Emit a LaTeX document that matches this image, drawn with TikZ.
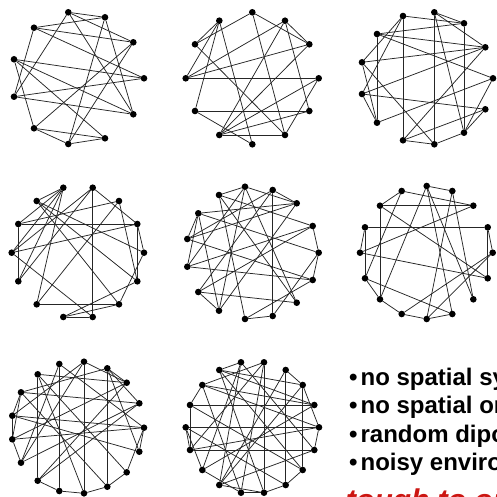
\documentclass[tikz,border=0pt]{standalone}
\usepackage{fontspec}
\setmainfont{Liberation Sans}
\usepackage{tikz}
\definecolor{toughred}{RGB}{204,22,18}

\begin{document}
\begin{tikzpicture}[line cap=round,line join=round,x=1pt,y=-1pt,
    vertex/.style={circle,fill=black,inner sep=0pt,minimum size=6.6pt},
    edge/.style={line width=0.75pt,color=black!85},
    item/.style={anchor=base west,inner sep=0pt,font=\fontsize{24}{28}\selectfont\bfseries}]
        \useasboundingbox (0,0) rectangle (497,497);
        % graph a (top left)
        \foreach \i/\x/\y in {1/68.3/12.3,2/105/17.3,3/133.3/42.3,4/144/78.3,5/133.3/114.3,6/105/138.3,7/68.3/144,8/34/128.3,9/14/96.7,10/14/59.3,11/34/27.7}
        \node[vertex] (a\i) at (\x,\y) {};
        \foreach \u/\v in {1/2,1/3,11/2,11/3,11/4,11/9,1/9,1/5,2/7,2/5,3/8,3/7,10/4,10/5,10/6,10/8,9/4,9/5,8/6,8/7,7/6}
        \draw[edge] (a\u) -- (a\v);
        % graph b (top middle)
        \foreach \i/\x/\y in {1/252.3/12.3,2/285/20.7,3/309.3/44.3,4/318.7/78.3,5/309.3/111,6/285/135,7/252.3/144.3,8/219.3/135,9/195/111,10/185.7/78.3,11/195/44.3,12/219.3/20.7}
        \node[vertex] (b\i) at (\x,\y) {};
        \foreach \u/\v in {1/11,1/3,1/6,2/10,2/8,2/3,2/5,3/10,3/8,10/4,12/9,12/10,12/7,12/11,11/6,9/5,9/7,8/5,8/4,8/6,6/4}
        \draw[edge] (b\u) -- (b\v);
        % graph c (top right)
        \foreach \i/\x/\y in {1/403/16,2/434.3/12.3,3/464/23.3,4/485.3/47.3,5/493/78.3,6/485.3/109.3,7/464/132.7,8/434.3/144.3,9/403/140.3,10/377/122.7,11/362/94,12/362/62.3,13/377/34}
        \node[vertex] (c\i) at (\x,\y) {};
        \foreach \u/\v in {1/3,1/9,1/12,1/11,2/3,2/8,2/4,2/7,13/3,13/4,13/5,13/10,12/4,12/8,12/10,11/4,11/6,11/10,10/5,9/4,9/6,9/8,8/7,7/3,7/5,6/7}
        \draw[edge] (c\u) -- (c\v);
        % graph d (middle left)
        \foreach \i/\x/\y in {1/63.3/187.7,2/92.7/187.7,3/119/201,4/137.3/224,5/144/252.7,6/137.3/281.3,7/119/304.3,8/92.7/317,9/63.3/317,10/36.7/304.3,11/18.3/281.3,12/11.7/252.7,13/18.3/224,14/36.7/201}
        \node[vertex] (d\i) at (\x,\y) {};
        \foreach \u/\v in {14/1,1/13,1/12,1/11,1/10,14/5,14/6,14/7,2/8,2/4,2/12,2/11,3/13,3/10,3/6,13/4,13/11,12/4,12/8,4/6,5/7,6/9,10/7,9/8,9/7,4/5}
        \draw[edge] (d\u) -- (d\v);
        % graph e (centre)
        \foreach \i/\x/\y in {1/245/186.7,2/272.7/190,3/296.7/203.3,4/312.7/226,5/318.7/252.7,6/312.7/280,7/296.7/302.7,8/272.7/316,9/245/319,10/219/310.7,11/198.3/292,12/187.3/266.7,13/187.3/239,14/198.3/213.3,15/219/195}
        \node[vertex] (e\i) at (\x,\y) {};
        \foreach \u/\v in {1/3,1/12,1/7,1/10,2/8,2/13,2/11,2/3,3/14,3/13,3/10,15/4,15/9,15/7,15/1,14/5,14/12,14/13,14/10,13/6,12/6,12/4,11/10,11/4,11/7,9/8,9/6,8/5,5/6,4/5}
        \draw[edge] (e\u) -- (e\v);
        % graph f (middle right)
        \foreach \i/\x/\y in {1/401.7/191,2/426.7/186,3/452.3/191,4/473.3/205.7,5/487.7/227.3,6/492.7/252.7,7/487.7/278.3,8/473.3/299.3,9/452.3/314,10/426.7/319,11/401.7/314,12/380/299.3,13/365/278.3,14/360/252.7,15/365/227.3,16/380/205.7}
        \node[vertex] (f\i) at (\x,\y) {};
        \foreach \u/\v in {16/4,16/12,16/1,16/7,15/5,15/13,15/14,14/4,14/7,13/1,13/9,13/12,12/2,12/11,11/6,11/10,10/6,10/3,9/2,9/10,8/3,7/5,6/5,2/3,2/8,1/4}
        \draw[edge] (f\u) -- (f\v);
        % graph g (bottom left)
        \foreach \i/\x/\y in {1/59.3/364,2/84/361.7,3/107.3/368.3,4/126.7/382.7,5/139.3/403.3,6/144/427.7,7/139.3/451.7,8/126.7/472.3,9/107.3/486.7,10/84/493.3,11/59.3/491,12/37.7/480.7,13/21/462.7,14/12.3/439.3,15/12.3/415.7,16/21/392.3,17/37.7/374.3}
        \node[vertex] (g\i) at (\x,\y) {};
        \foreach \u/\v in {1/11,3/9,17/12,1/13,1/6,2/4,2/15,2/13,2/10,3/4,3/16,3/5,17/4,17/10,17/8,16/15,16/14,16/5,16/9,15/6,15/7,14/6,14/13,14/4,14/15,13/5,12/5,12/11,11/10,10/9,9/8,8/6,7/6,7/3,12/4}
        \draw[edge] (g\u) -- (g\v);
        % graph h (bottom middle)
        \foreach \i/\x/\y in {1/241/362.3,2/264/362.3,3/285.7/370,4/302.7/385,5/314.3/405,6/319/427.3,7/314.3/450,8/302.7/470,9/285.7/485,10/264/492.7,11/241/492.7,12/219.3/485,13/202.3/470,14/190/450,15/185.7/427.3,16/190/405,17/202.3/385,18/219.3/370}
        \node[vertex] (h\i) at (\x,\y) {};
        \foreach \u/\v in {1/18,1/12,1/7,1/13,2/17,2/14,2/10,2/11,3/4,3/9,3/12,18/4,18/5,18/8,18/10,17/5,17/6,17/16,17/11,16/5,16/14,16/8,15/6,15/14,15/13,15/9,14/7,14/6,13/11,13/5,12/10,12/7,11/10,10/9,9/8,8/4,7/6,6/4,4/12}
        \draw[edge] (h\u) -- (h\v);
        % bullet list
        \node[item] (sym) at (349,385) {\textbullet\hspace{3pt}no spatial symmetry};
        \node[item] (ord) at (349,413.5) {\textbullet\hspace{3pt}no spatial order};
        \node[item] (dip) at (349,442) {\textbullet\hspace{3pt}random dipoles};
        \node[item] (env) at (349,470.5) {\textbullet\hspace{3pt}noisy environment};
        \node[item,font=\fontsize{30}{34}\selectfont\bfseries\itshape,text=toughred] (tough) at (346,510) {tough to optimize};
      \end{tikzpicture}
\end{document}
